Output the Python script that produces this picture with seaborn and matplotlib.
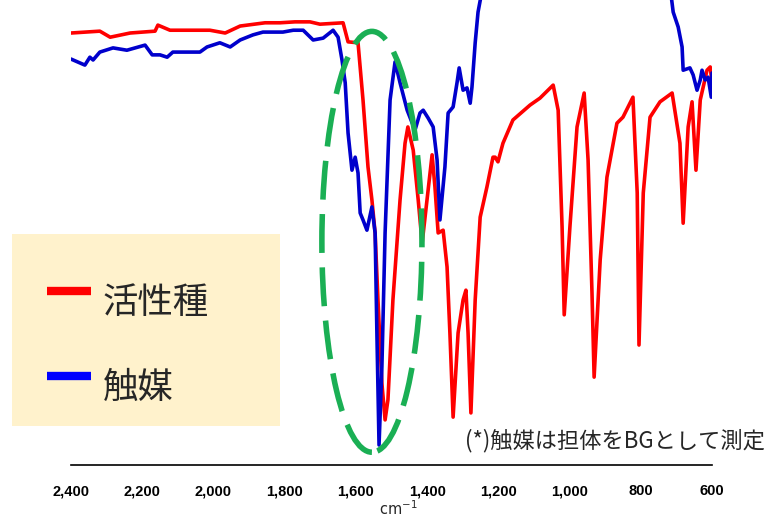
import numpy as np
import matplotlib
matplotlib.use("Agg")
import matplotlib.pyplot as plt
import seaborn as sns
from matplotlib.patches import Ellipse, Rectangle
from matplotlib.lines import Line2D

# IR spectra (wavenumber cm-1, transmittance %)
red_wn = [2400, 2319, 2290, 2234, 2164, 2156, 2122, 2010, 1967, 1925, 1855, 1813, 1771, 1729,
          1701, 1636, 1622, 1594, 1580, 1566, 1555, 1546, 1538, 1527, 1518, 1510, 1496, 1476,
          1462, 1454, 1439, 1425, 1414, 1386, 1378, 1369, 1355, 1344, 1336, 1327, 1313, 1299,
          1291, 1285, 1277, 1265, 1251, 1232, 1215, 1209, 1201, 1187, 1159, 1111, 1083, 1046,
          1032, 1021, 1015, 999, 979, 959, 948, 937, 931, 914, 895, 867, 850, 822, 810, 805,
          793, 774, 746, 712, 690, 681, 667, 656, 645, 633, 614, 605, 597]
red_t = [92.9, 93.3, 92.0, 92.9, 93.3, 94.6, 93.5, 93.5, 92.9, 94.4, 95.1, 95.1, 95.3, 95.3,
         94.8, 95.1, 91.0, 90.8, 78.5, 64.1, 57.0, 49.9, 35.5, 17.6, 9.7, 14.0, 35.5, 57.0,
         69.2, 72.7, 67.7, 57.0, 47.7, 66.7, 59.8, 49.9, 50.5, 42.6, 28.4, 10.3, 28.4, 35.5,
         37.6, 28.4, 11.2, 35.5, 53.3, 59.8, 66.2, 66.2, 65.2, 69.2, 74.2, 77.4, 78.9, 81.7,
         76.3, 51.2, 32.3, 51.2, 72.7, 80.0, 65.6, 37.0, 18.9, 44.1, 61.9, 73.5, 74.8, 79.1,
         58.5, 25.8, 58.5, 74.8, 78.1, 80.0, 69.2, 52.0, 72.7, 78.1, 63.4, 78.5, 84.9, 85.6, 80.0]

blue_wn_a = [2400, 2361, 2347, 2338, 2319, 2282, 2243, 2192, 2172, 2150, 2130, 2114, 2074, 2038,
             2018, 1982, 1953, 1925, 1889, 1861, 1805, 1776, 1748, 1720, 1692, 1664, 1650, 1639,
             1630, 1622, 1611, 1602, 1594, 1588, 1580, 1569, 1555, 1546, 1541, 1535, 1527, 1518,
             1504, 1490, 1476, 1456, 1434, 1420, 1411, 1397, 1383, 1372, 1364, 1350, 1341, 1327,
             1316, 1310, 1299, 1288, 1279, 1274, 1265, 1257, 1248]
blue_t_a = [87.3, 86.0, 87.7, 87.1, 88.8, 89.7, 89.2, 90.3, 88.2, 88.2, 87.7, 88.8, 88.8, 88.8,
            89.9, 90.8, 89.9, 91.4, 92.5, 93.1, 93.1, 93.5, 93.5, 91.4, 91.8, 93.5, 92.0, 87.1,
            82.2, 71.4, 63.4, 66.2, 62.8, 54.2, 52.7, 50.5, 55.5, 49.9, 28.4, 4.3, 21.1, 49.9,
            78.5, 86.7, 82.2, 76.3, 72.0, 75.7, 76.3, 74.6, 72.7, 65.6, 52.7, 64.1, 75.7, 77.0,
            82.2, 85.4, 80.6, 81.1, 77.8, 81.3, 90.8, 97.4, 101.1]
blue_wn_b = [715, 709, 695, 684, 681, 662, 653, 642, 633, 628, 619, 611, 602, 600]
blue_t_b = [101.1, 97.4, 94.2, 89.9, 84.9, 85.4, 83.9, 80.6, 82.8, 84.9, 82.8, 83.4, 79.1, 84.3]

xticks = [2400, 2200, 2000, 1800, 1600, 1400, 1200, 1000, 800, 600]
series_labels = ["活性種", "触媒"]
note = "(*)触媒は担体をBGとして測定"

RED = "#FF0000"
BLUE = "#0000CC"
GREEN = "#1AAF54"
JP = ["Noto Sans CJK JP", "DejaVu Sans"]

sns.set_style("white")
W, H = 767, 519
fig = plt.figure(figsize=(W / 100, H / 100), dpi=100)
ax = fig.add_axes([71 / W, 54 / H, 641 / W, 465 / H])

sns.lineplot(x=red_wn, y=red_t, sort=False, color=RED, lw=2.6, ax=ax)
sns.lineplot(x=blue_wn_a, y=blue_t_a, sort=False, color=BLUE, lw=2.6, ax=ax)
sns.lineplot(x=blue_wn_b, y=blue_t_b, sort=False, color=BLUE, lw=2.6, ax=ax)

ax.set_xlim(2400, 600)
ax.set_ylim(0, 100)
ax.set_yticks([])
ax.set_xticks(xticks)
ax.set_xticklabels([f"{v:,}" for v in xticks], fontsize=10.5, fontweight="bold",
                   family="Liberation Sans")
ax.tick_params(axis="x", direction="out", length=6, width=1.2, pad=8, colors="black")
for s in ["top", "left", "right"]:
    ax.spines[s].set_visible(False)
ax.spines["bottom"].set_linewidth(1.2)
ax.spines["bottom"].set_color("black")
ax.set_xlabel("")
ax.set_ylabel("")

# highlight around the ~1540 band
ell = Ellipse((1555, 48), width=281, height=90.5, fill=False, edgecolor=GREEN,
              lw=4, linestyle=(0, (7, 2.6)), zorder=5)
ax.add_patch(ell)

# legend box
fig.patches.append(Rectangle((12 / W, 1 - 426 / H), 268 / W, 192 / H, transform=fig.transFigure,
                             facecolor="#FFF2CC", edgecolor="none", zorder=10))
for y, c, lab in [(291, RED, series_labels[0]), (376, "#0000FF", series_labels[1])]:
    fig.lines.append(Line2D([47 / W, 91 / W], [1 - y / H, 1 - y / H], transform=fig.transFigure,
                            color=c, lw=6, solid_capstyle="butt", zorder=11))
    fig.text(103 / W, 1 - (y + 12) / H, lab, fontsize=25.5, family=JP, va="center",
             ha="left", zorder=12)

fig.text(765 / W, 1 - 441 / H, note, fontsize=16, family=JP, ha="right", va="center")
fig.text(398 / W, 1 - 509 / H, "cm$^{-1}$", fontsize=10.5, ha="center", va="center")

fig.savefig("out.png", dpi=100)
